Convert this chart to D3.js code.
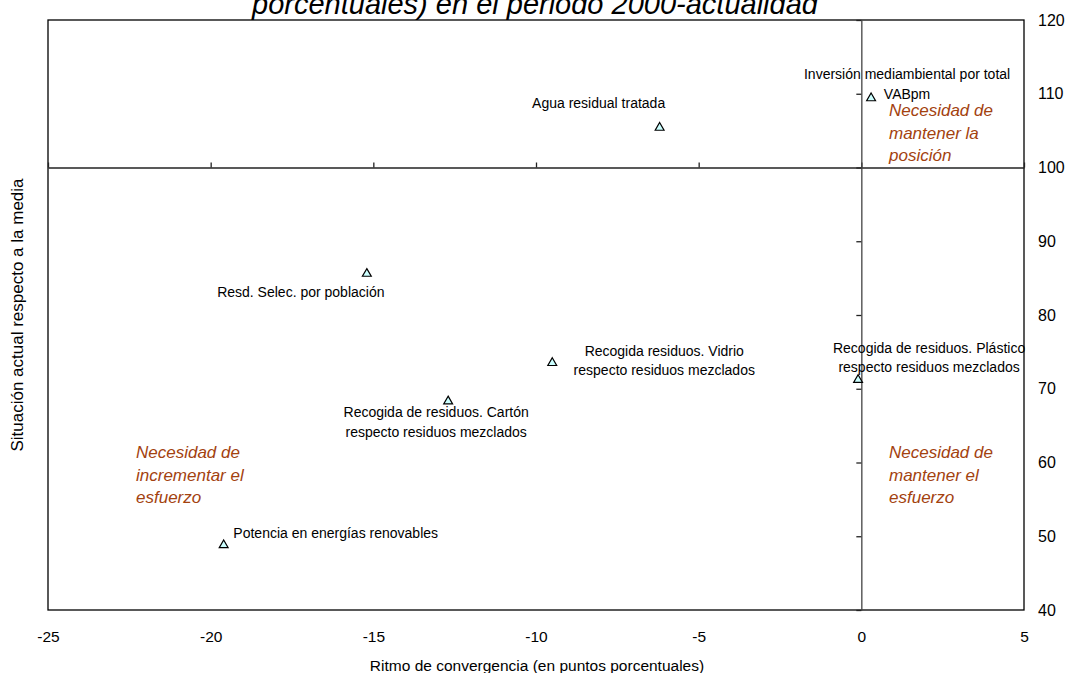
<!DOCTYPE html>
<html>
<head>
<meta charset="utf-8">
<script src="https://cdn.jsdelivr.net/npm/d3@7"></script>
<style>
  html, body { margin: 0; padding: 0; background: #fff; }
  svg { display: block; font-family: Arial, "Liberation Sans", sans-serif; }
</style>
</head>
<body>
<svg id="chart" width="1068" height="673"></svg>
<script>
// ---------------- data ----------------
const categories = [
  "Inversión mediambiental por total VABpm",
  "Agua residual tratada",
  "Resd. Selec. por población",
  "Recogida residuos. Vidrio respecto residuos mezclados",
  "Recogida de residuos. Cartón respecto residuos mezclados",
  "Recogida de residuos. Plástico respecto residuos mezclados",
  "Potencia en energías renovables"
];
const labelLines = [
  ["Inversión mediambiental por total", "VABpm"],
  ["Agua residual tratada"],
  ["Resd. Selec. por población"],
  ["Recogida residuos. Vidrio", "respecto residuos mezclados"],
  ["Recogida de residuos. Cartón", "respecto residuos mezclados"],
  ["Recogida de residuos. Plástico", "respecto residuos mezclados"],
  ["Potencia en energías renovables"]
];
const convergence = [0.3, -6.2, -15.2, -9.5, -12.7, -0.1, -19.6];   // x
const situation   = [109.4, 105.4, 85.6, 73.5, 68.3, 71.2, 48.8];   // y

const xTicks = [-25, -20, -15, -10, -5, 0, 5];
const yTicks = [40, 50, 60, 70, 80, 90, 100, 110, 120];

const quadrantTexts = [
  ["Necesidad de", "mantener la", "posición"],
  ["Necesidad de", "incrementar el", "esfuerzo"],
  ["Necesidad de", "mantener el", "esfuerzo"]
];

const titleText = "porcentuales) en el periodo 2000-actualidad";
const xTitle = "Ritmo de convergencia (en puntos porcentuales)";
const yTitle = "Situación actual respecto a la media";

// ---------------- layout (pixel offsets of labels from markers) ----------------
const labelOffsets = [
  {dx: 36, dy: -19}, {dx: -61, dy: -20}, {dx: -66, dy: 23}, {dx: 112, dy: -7},
  {dx: -12, dy: 16}, {dx: 71, dy: -27}, {dx: 112, dy: -7}
];
const quadrantPos = [ {x: 889, y: 116}, {x: 136, y: 458}, {x: 889, y: 458} ];

// ---------------- drawing ----------------
const svg = d3.select("#chart");
const L = 48, R = 1024, T = 20, B = 610;
const x = d3.scaleLinear().domain([-25, 5]).range([L, R]);
const y = d3.scaleLinear().domain([40, 120]).range([B, T]);
const plain = d => String(d);

// title (cut off at top, as in the reference)
svg.append("text")
  .attr("x", 535).attr("y", 14)
  .attr("text-anchor", "middle")
  .attr("font-size", 29).attr("font-style", "italic")
  .attr("fill", "#000")
  .text(titleText);

// plot frame
svg.append("rect")
  .attr("x", L).attr("y", T).attr("width", R - L).attr("height", B - T)
  .attr("fill", "none").attr("stroke", "#000").attr("stroke-width", 1.3);

// horizontal axis crossing at y=100
const xAxis = svg.append("g")
  .attr("transform", `translate(0,${y(100)})`)
  .call(d3.axisTop(x).tickValues(xTicks).tickSize(5).tickSizeOuter(0).tickFormat(""));
xAxis.select(".domain").attr("stroke", "#222").attr("stroke-width", 1.3);
xAxis.selectAll(".tick line").attr("stroke", "#222").attr("stroke-width", 1.3);

// vertical axis crossing at x=0
const yAxis = svg.append("g")
  .attr("transform", `translate(${x(0)},0)`)
  .call(d3.axisLeft(y).tickValues(yTicks).tickSize(5).tickSizeOuter(0).tickFormat(""));
yAxis.select(".domain").attr("stroke", "#444").attr("stroke-width", 1.3);
yAxis.selectAll(".tick line").attr("stroke", "#222").attr("stroke-width", 1.3);

// x tick labels (low position)
const xLab = svg.append("g")
  .attr("transform", `translate(0,${B})`)
  .call(d3.axisBottom(x).tickValues(xTicks).tickSize(0).tickPadding(21).tickFormat(plain));
xLab.select(".domain").remove();
xLab.selectAll("text").attr("font-size", 15.5).attr("fill", "#000")
  .attr("font-family", "Arial, 'Liberation Sans', sans-serif");

// y tick labels (high position)
const yLab = svg.append("g")
  .attr("transform", `translate(${R},0)`)
  .call(d3.axisRight(y).tickValues(yTicks).tickSize(0).tickPadding(14).tickFormat(plain));
yLab.select(".domain").remove();
yLab.selectAll("text").attr("font-size", 16).attr("fill", "#000")
  .attr("font-family", "Arial, 'Liberation Sans', sans-serif");

// axis titles
svg.append("text")
  .attr("x", 537).attr("y", 671)
  .attr("text-anchor", "middle").attr("font-size", 15.5)
  .text(xTitle);
svg.append("text")
  .attr("transform", `translate(23,${315}) rotate(-90)`)
  .attr("text-anchor", "middle").attr("font-size", 17)
  .text(yTitle);

// quadrant annotations
quadrantTexts.forEach((lines, i) => {
  const t = svg.append("text")
    .attr("x", quadrantPos[i].x).attr("y", quadrantPos[i].y)
    .attr("font-size", 17).attr("font-style", "italic").attr("fill", "#a3420f");
  lines.forEach((ln, j) => {
    t.append("tspan").attr("x", quadrantPos[i].x).attr("dy", j === 0 ? 0 : 22.5).text(ln);
  });
});

// points
const pts = categories.map((c, i) => ({name: c, x: convergence[i], y: situation[i], lines: labelLines[i], off: labelOffsets[i]}));

svg.append("g").selectAll("path")
  .data(pts).join("path")
  .attr("transform", d => `translate(${x(d.x)},${y(d.y)})`)
  .attr("d", d3.symbol().type(d3.symbolTriangle).size(34))
  .attr("fill", "#ccffff").attr("stroke", "#000").attr("stroke-width", 1.2);

// labels
const lab = svg.append("g").selectAll("text")
  .data(pts).join("text")
  .attr("text-anchor", "middle")
  .attr("font-size", 14).attr("fill", "#000");
lab.each(function(d) {
  const t = d3.select(this);
  const cx = x(d.x) + d.off.dx, cy = y(d.y) + d.off.dy;
  t.attr("x", cx).attr("y", cy);
  d.lines.forEach((ln, j) => {
    t.append("tspan").attr("x", cx).attr("dy", j === 0 ? 0 : 19.5).text(ln);
  });
});
</script>
</body>
</html>
